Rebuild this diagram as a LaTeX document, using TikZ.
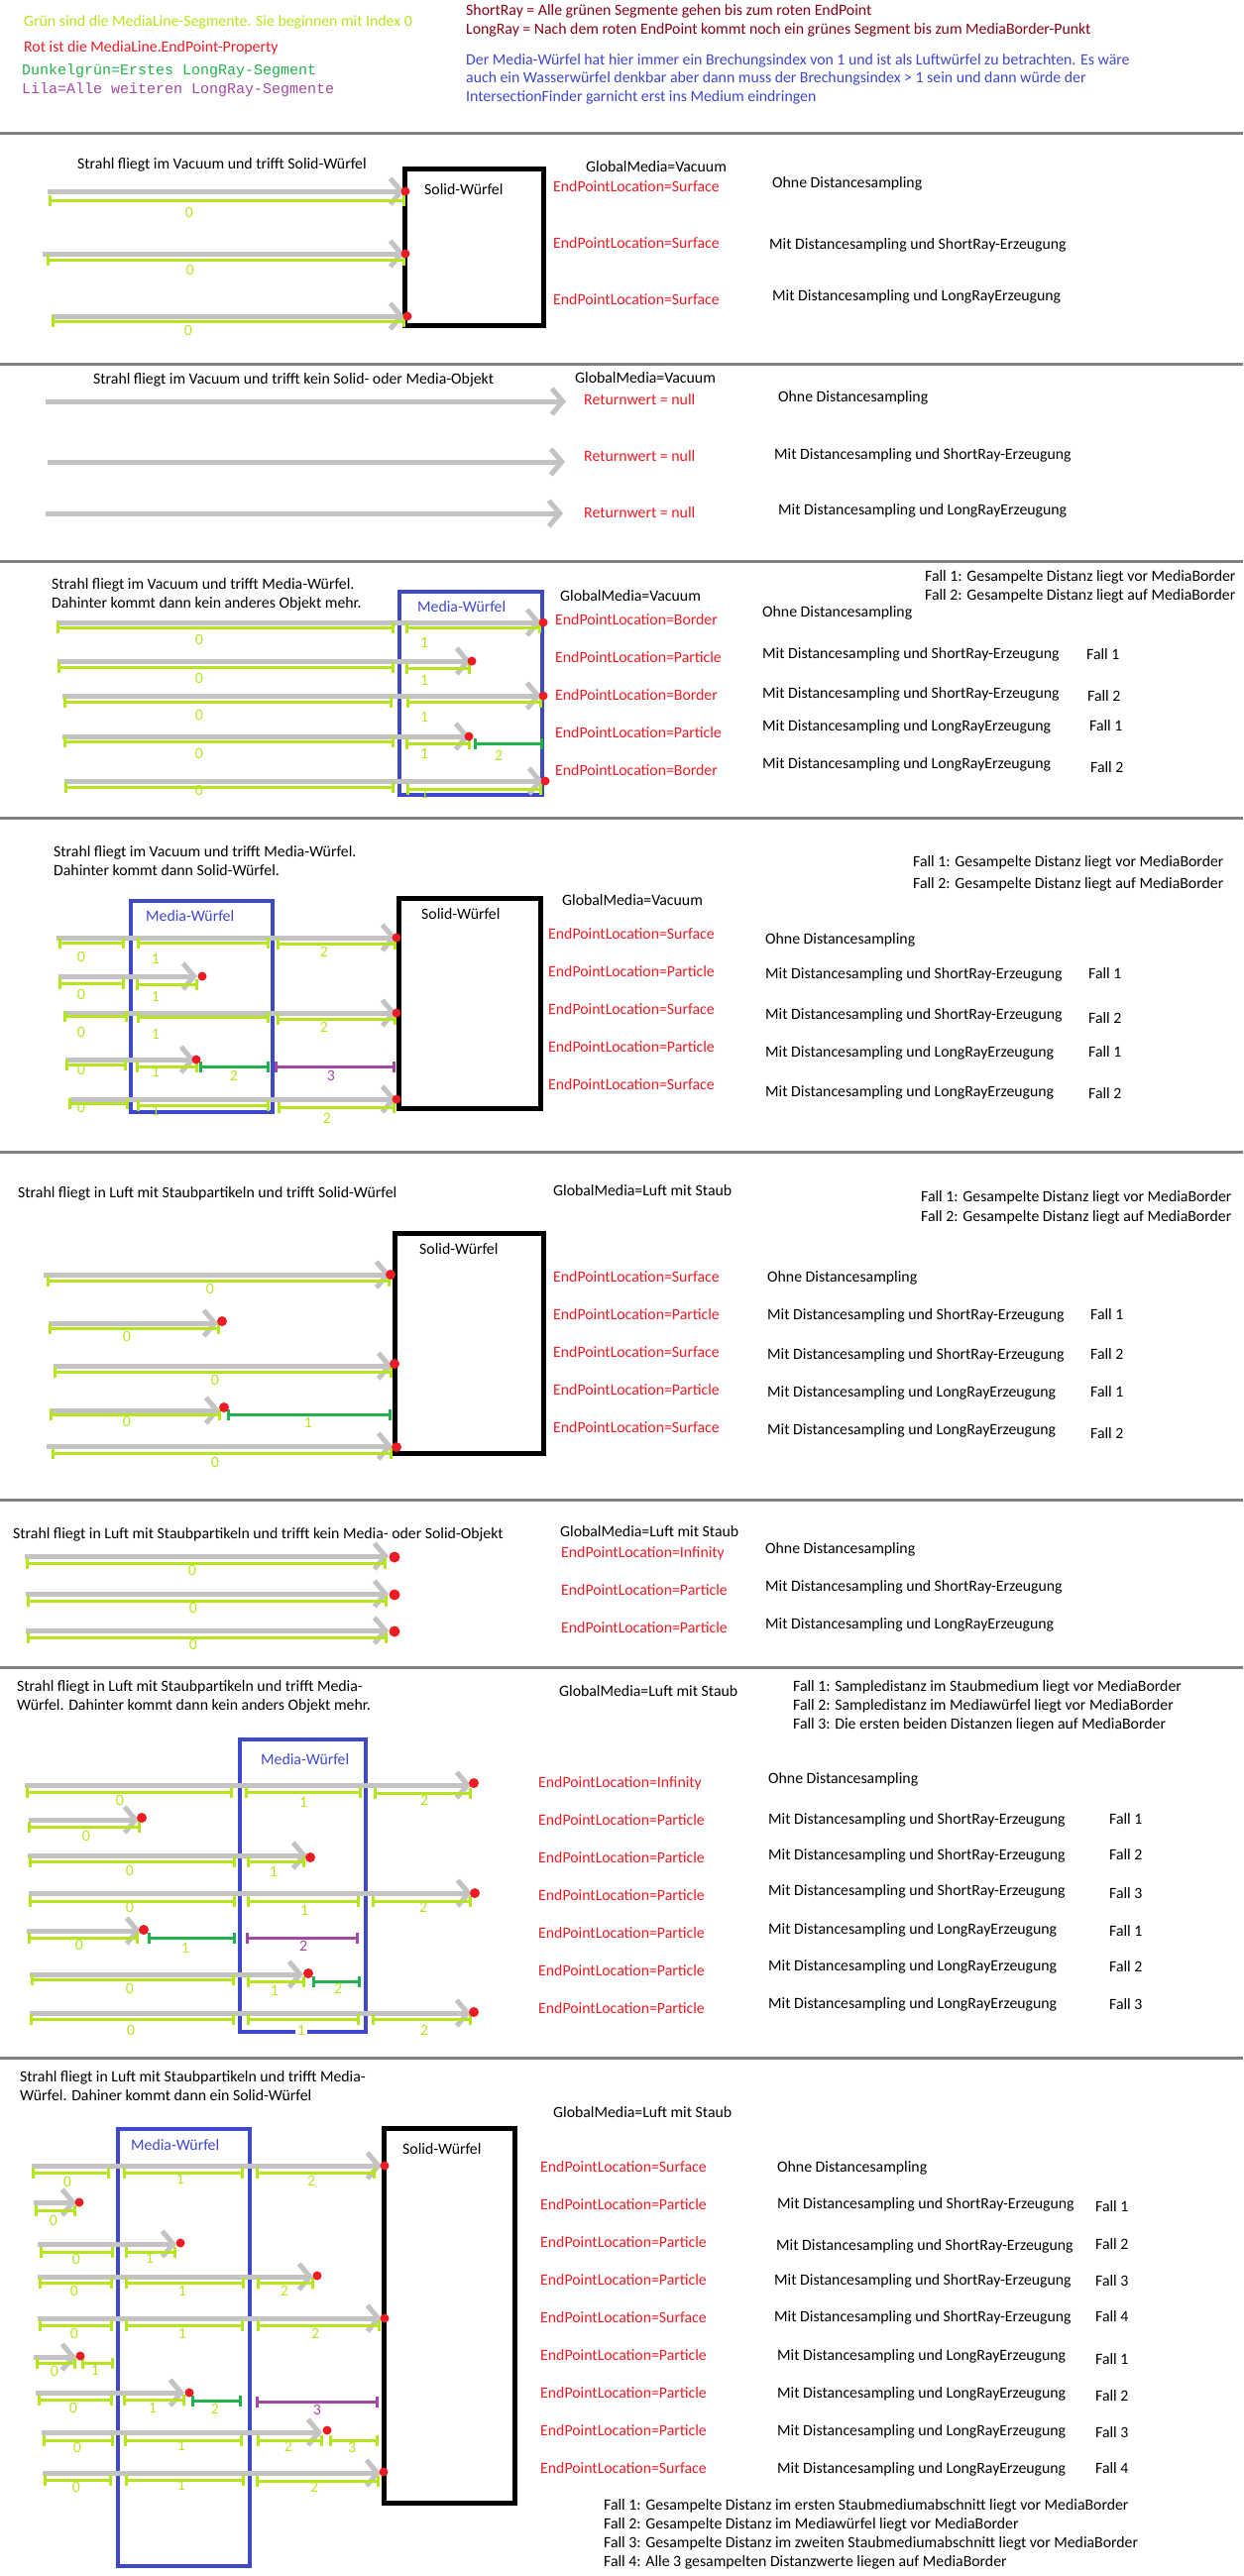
\documentclass[tikz,border=0pt]{standalone}
\usepackage{fontspec}
\setmainfont{Carlito}
\newfontfamily\mymono{Liberation Mono}
\usetikzlibrary{arrows.meta}
\definecolor{cLime}{HTML}{B5E61D}
\definecolor{cDGreen}{HTML}{22B14C}
\definecolor{cPurp}{HTML}{A349A4}
\definecolor{cRed}{HTML}{ED1C24}
\definecolor{cBlue}{HTML}{3F48CC}
\definecolor{cRay}{HTML}{C3C3C3}
\definecolor{cSep}{HTML}{7F7F7F}
\definecolor{cDRed}{HTML}{880015}
\newcounter{nid}
\newcommand\TX[4][]{\stepcounter{nid}\node[txt,#1] (n\arabic{nid}) at (#2,#3) {#4};}
\newcommand\LB[4][cLime]{\stepcounter{nid}\node[lbl,text=#1] (n\arabic{nid}) at (#2,#3) {#4};}
\newcommand\RY[3]{\draw[raysty] (#1,#3) -- (#2,#3);}
\newcommand\GS[4][cLime]{\draw[segsty,draw=#1] (#2,#4) -- (#3,#4);}
\newcommand\EP[3][4.5]{\fill[cRed] (#2,#3) circle (#1pt);}
\newcommand\SEP[1]{\draw[cSep,line width=3pt] (0,#1) -- (1254,#1);}
\begin{document}
\begin{tikzpicture}[x=1pt,y=-1pt,
  txt/.style={anchor=west,inner sep=0pt,font=\fontsize{15.8}{19}\selectfont,text height=10.5pt,text depth=3pt},
  lbl/.style={anchor=center,inner sep=0pt,font=\fontsize{15.8}{19}\selectfont,text height=10.5pt,text depth=3pt},
  red/.style={text=cRed},
  mono/.style={font=\mymono\fontsize{15}{18}\selectfont},
  raysty/.style={draw=cRay,line width=5pt,-{Straight Barb[length=11pt,width=26pt]}},
  segsty/.style={line width=3pt,{Bar[width=11pt]}-{Bar[width=11pt]}},
  solidbox/.style={draw=black,line width=5pt},
  mediabox/.style={draw=cBlue,line width=4.5pt}]
\fill[white] (0,0) rectangle (1254,2599);
\useasboundingbox (0,0) rectangle (1254,2599);

% ---------------- header
\TX[text=cLime]{24}{23}{Grün sind die MediaLine-Segmente. Sie beginnen mit Index 0}
\TX[red]{24}{49}{Rot ist die MediaLine.EndPoint-Property}
\TX[mono,text=cDGreen]{22}{72}{Dunkelgrün=Erstes LongRay-Segment}
\TX[mono,text=cPurp]{22}{91}{Lila=Alle weiteren LongRay-Segmente}
\TX[text=cDRed]{470}{12}{ShortRay = Alle grünen Segmente gehen bis zum roten EndPoint}
\TX[text=cDRed]{470}{31}{LongRay = Nach dem roten EndPoint kommt noch ein grünes Segment bis zum MediaBorder-Punkt}
\TX[text=cBlue]{470}{62}{Der Media-Würfel hat hier immer ein Brechungsindex von 1 und ist als Luftwürfel zu betrachten. Es wäre}
\TX[text=cBlue]{470}{80}{auch ein Wasserwürfel denkbar aber dann muss der Brechungsindex > 1 sein und dann würde der}
\TX[text=cBlue]{470}{99}{IntersectionFinder garnicht erst ins Medium eindringen}

\SEP{134}\SEP{367}\SEP{566}\SEP{825}\SEP{1162}\SEP{1513}\SEP{1682}\SEP{2076}

% ---------------- section 1
\TX{78}{167}{Strahl fliegt im Vacuum und trifft Solid-Würfel}
\draw[solidbox] (408,170) rectangle (548,328);
\TX{428}{193}{Solid-Würfel}
\RY{48}{408}{193}\GS{49}{409}{202}\LB{191}{216}{0}\EP{409}{193}
\RY{43}{408}{256}\GS{47}{409}{262}\LB{192}{274}{0}\EP{409}{256}
\RY{52}{408}{319}\GS{52}{409}{324}\LB{190}{335}{0}\EP{411}{319}
\TX{591}{170}{GlobalMedia=Vacuum}
\TX[red]{558}{190}{EndPointLocation=Surface}
\TX[red]{558}{247}{EndPointLocation=Surface}
\TX[red]{558}{304}{EndPointLocation=Surface}
\TX{779}{186}{Ohne Distancesampling}
\TX{776}{248}{Mit Distancesampling und ShortRay-Erzeugung}
\TX{779}{300}{Mit Distancesampling und LongRayErzeugung}

% ---------------- section 2
\TX{94}{384}{Strahl fliegt im Vacuum und trifft kein Solid- oder Media-Objekt}
\RY{46}{571}{405}\RY{48}{570}{466}\RY{46}{568}{518}
\TX{580}{383}{GlobalMedia=Vacuum}
\TX[red]{589}{405}{Returnwert = null}
\TX[red]{589}{462}{Returnwert = null}
\TX[red]{589}{519}{Returnwert = null}
\TX{785}{402}{Ohne Distancesampling}
\TX{781}{460}{Mit Distancesampling und ShortRay-Erzeugung}
\TX{785}{516}{Mit Distancesampling und LongRayErzeugung}

% ---------------- section 3
\TX{52}{591}{Strahl fliegt im Vacuum und trifft Media-Würfel.}
\TX{52}{610}{Dahinter kommt dann kein anderes Objekt mehr.}
\draw[mediabox] (403,597) rectangle (547,802);
\TX[text=cBlue]{421}{614}{Media-Würfel}
\RY{57}{546}{628}\GS{57}{398}{633}\GS{409}{546}{633}\LB{201}{647}{0}\LB{428}{650}{1}\EP{548}{628}
\RY{58}{475}{667}\GS{58}{398}{673}\GS{409}{475}{674}\LB{201}{686}{0}\LB{428}{688}{1}\EP{476}{667}
\RY{63}{546}{702}\GS{64}{396}{708}\GS{410}{547}{708}\LB{201}{723}{0}\LB{428}{725}{1}\EP{548}{702}
\RY{63}{474}{743}\GS{64}{398}{748}\GS{409}{475}{750}\GS[cDGreen]{478}{548}{750}\LB{201}{762}{0}\LB{428}{762}{1}\LB{503}{764}{2}\EP{473}{743}
\RY{65}{548}{788}\GS{65}{398}{794}\GS{410}{547}{796}\LB{201}{799}{0}\LB{428}{802}{1}\EP{550}{788}
\TX{933}{583}{Fall 1: Gesampelte Distanz liegt vor MediaBorder}
\TX{933}{602}{Fall 2: Gesampelte Distanz liegt auf MediaBorder}
\TX{565}{603}{GlobalMedia=Vacuum}
\TX[red]{560}{627}{EndPointLocation=Border}
\TX[red]{560}{665}{EndPointLocation=Particle}
\TX[red]{560}{703}{EndPointLocation=Border}
\TX[red]{560}{741}{EndPointLocation=Particle}
\TX[red]{560}{779}{EndPointLocation=Border}
\TX{769}{619}{Ohne Distancesampling}
\TX{769}{661}{Mit Distancesampling und ShortRay-Erzeugung}
\TX{769}{701}{Mit Distancesampling und ShortRay-Erzeugung}
\TX{769}{734}{Mit Distancesampling und LongRayErzeugung}
\TX{769}{772}{Mit Distancesampling und LongRayErzeugung}
\TX{1096}{662}{Fall 1}\TX{1097}{704}{Fall 2}\TX{1099}{734}{Fall 1}\TX{1100}{776}{Fall 2}

% ---------------- section 4
\TX{54}{861}{Strahl fliegt im Vacuum und trifft Media-Würfel.}
\TX{54}{880}{Dahinter kommt dann Solid-Würfel.}
\draw[mediabox] (132,909) rectangle (275,1122);
\TX[text=cBlue]{147}{926}{Media-Würfel}
\draw[solidbox] (402,906) rectangle (545,1118);
\TX{425}{924}{Solid-Würfel}
\RY{57}{400}{946}\GS{59}{126}{951}\GS{138}{272}{951}\GS{279}{400}{952}\LB{82}{967}{0}\LB{157}{969}{1}\LB{327}{962}{2}\EP{400}{946}
\RY{59}{199}{985}\GS{59}{126}{992}\GS{137}{200}{993}\LB{82}{1005}{0}\LB{157}{1007}{1}\EP{204}{985}
\RY{64}{400}{1022}\GS{64}{129}{1025}\GS{138}{272}{1026}\GS{279}{400}{1028}\LB{82}{1043}{0}\LB{157}{1045}{1}\LB{327}{1038}{2}\EP{400}{1022}
\RY{66}{197}{1069}\GS{66}{128}{1074}\GS{137}{200}{1076}\GS[cDGreen]{201}{272}{1076}\GS[cPurp]{277}{399}{1076}\LB{82}{1081}{0}\LB{157}{1083}{1}\LB{236}{1087}{2}\LB[cPurp]{334}{1087}{3}\EP{198}{1069}
\RY{71}{400}{1109}\GS{69}{130}{1113}\GS{138}{272}{1115}\GS{280}{399}{1117}\LB{82}{1119}{0}\LB{157}{1122}{1}\LB{330}{1130}{2}\EP{400}{1109}
\TX{921}{871}{Fall 1: Gesampelte Distanz liegt vor MediaBorder}
\TX{921}{893}{Fall 2: Gesampelte Distanz liegt auf MediaBorder}
\TX{567}{910}{GlobalMedia=Vacuum}
\TX[red]{553}{944}{EndPointLocation=Surface}
\TX[red]{553}{982}{EndPointLocation=Particle}
\TX[red]{553}{1020}{EndPointLocation=Surface}
\TX[red]{553}{1058}{EndPointLocation=Particle}
\TX[red]{553}{1096}{EndPointLocation=Surface}
\TX{772}{949}{Ohne Distancesampling}
\TX{772}{984}{Mit Distancesampling und ShortRay-Erzeugung}
\TX{772}{1025}{Mit Distancesampling und ShortRay-Erzeugung}
\TX{772}{1063}{Mit Distancesampling und LongRayErzeugung}
\TX{772}{1103}{Mit Distancesampling und LongRayErzeugung}
\TX{1098}{984}{Fall 1}\TX{1098}{1029}{Fall 2}\TX{1098}{1063}{Fall 1}\TX{1098}{1105}{Fall 2}

% ---------------- section 5
\TX{18}{1205}{Strahl fliegt in Luft mit Staubpartikeln und trifft Solid-Würfel}
\draw[solidbox] (398,1244) rectangle (548,1466);
\TX{423}{1262}{Solid-Würfel}
\RY{44}{394}{1286}\GS{47}{394}{1292}\LB{212}{1302}{0}\EP[5]{394}{1286}
\RY{49}{220}{1335}\GS{49}{222}{1340}\LB{128}{1350}{0}\EP[5]{224}{1333}
\RY{54}{396}{1378}\GS{54}{396}{1384}\LB{217}{1394}{0}\EP[5]{398}{1376}
\RY{50}{222}{1423}\GS{50}{223}{1427}\GS[cDGreen]{229}{395}{1427}\LB{128}{1436}{0}\LB{311}{1437}{1}\EP[5]{226}{1420}
\RY{47}{396}{1459}\GS{52}{396}{1466}\LB{217}{1477}{0}\EP[5]{400}{1460}
\TX{558}{1203}{GlobalMedia=Luft mit Staub}
\TX{929}{1209}{Fall 1: Gesampelte Distanz liegt vor MediaBorder}
\TX{929}{1229}{Fall 2: Gesampelte Distanz liegt auf MediaBorder}
\TX[red]{558}{1290}{EndPointLocation=Surface}
\TX[red]{558}{1328}{EndPointLocation=Particle}
\TX[red]{558}{1366}{EndPointLocation=Surface}
\TX[red]{558}{1404}{EndPointLocation=Particle}
\TX[red]{558}{1442}{EndPointLocation=Surface}
\TX{774}{1290}{Ohne Distancesampling}
\TX{774}{1328}{Mit Distancesampling und ShortRay-Erzeugung}
\TX{774}{1368}{Mit Distancesampling und ShortRay-Erzeugung}
\TX{774}{1406}{Mit Distancesampling und LongRayErzeugung}
\TX{774}{1444}{Mit Distancesampling und LongRayErzeugung}
\TX{1100}{1328}{Fall 1}\TX{1100}{1368}{Fall 2}\TX{1100}{1406}{Fall 1}\TX{1100}{1448}{Fall 2}

% ---------------- section 6
\TX{13}{1549}{Strahl fliegt in Luft mit Staubpartikeln und trifft kein Media- oder Solid-Objekt}
\RY{25}{392}{1570}\GS{26}{390}{1577}\LB{194}{1586}{0}\EP[5.5]{398}{1571}
\RY{26}{392}{1608}\GS{27}{391}{1615}\LB{195}{1624}{0}\EP[5.5]{398}{1609}
\RY{26}{392}{1645}\GS{27}{391}{1652}\LB{195}{1661}{0}\EP[5.5]{398}{1646}
\TX{565}{1547}{GlobalMedia=Luft mit Staub}
\TX[red]{566}{1568}{EndPointLocation=Infinity}
\TX[red]{566}{1606}{EndPointLocation=Particle}
\TX[red]{566}{1644}{EndPointLocation=Particle}
\TX{772}{1564}{Ohne Distancesampling}
\TX{772}{1602}{Mit Distancesampling und ShortRay-Erzeugung}
\TX{772}{1640}{Mit Distancesampling und LongRayErzeugung}

% ---------------- section 7
\TX{17}{1703}{Strahl fliegt in Luft mit Staubpartikeln und trifft Media-}
\TX{17}{1722}{Würfel. Dahinter kommt dann kein anders Objekt mehr.}
\draw[mediabox] (242,1755) rectangle (369,2050);
\TX[text=cBlue]{263}{1777}{Media-Würfel}
\RY{25}{475}{1801}\GS{26}{235}{1808}\GS{247}{365}{1808}\GS{377}{476}{1809}\LB{121}{1818}{0}\LB{306}{1820}{1}\LB{428}{1818}{2}\EP[5]{478}{1799}
\RY{29}{140}{1836}\GS{28}{142}{1843}\LB{87}{1854}{0}\EP[5]{143}{1834}
\RY{28}{310}{1872}\GS{29}{238}{1878}\GS{249}{308}{1878}\LB{131}{1889}{0}\LB{276}{1890}{1}\EP[5]{313}{1874}
\RY{29}{476}{1910}\GS{29}{238}{1918}\GS{249}{363}{1918}\GS{375}{476}{1918}\LB{131}{1926}{0}\LB{307}{1929}{1}\LB{427}{1926}{2}\EP[5]{479}{1910}
\RY{27}{142}{1948}\GS{28}{140}{1955}\GS[cDGreen]{149}{238}{1955}\GS[cPurp]{248}{362}{1955}\LB{80}{1964}{0}\LB{187}{1967}{1}\LB[cPurp]{306}{1965}{2}\EP[5]{145}{1947}
\RY{30}{306}{1992}\GS{31}{237}{1997}\GS{249}{308}{1999}\GS[cDGreen]{315}{364}{1999}\LB{131}{2008}{0}\LB{277}{2010}{1}\LB{341}{2008}{2}\EP[5]{311}{1991}
\RY{30}{475}{2031}\GS{30}{237}{2037}\GS{249}{363}{2037}\GS{375}{476}{2037}\LB{132}{2050}{0}\stepcounter{nid}\node[lbl,text=cLime,fill=white,inner xsep=2pt] (n\arabic{nid}) at (304,2050) {1};\LB{428}{2050}{2}\EP[5]{478}{2030}
\TX{564}{1708}{GlobalMedia=Luft mit Staub}
\TX{800}{1703}{Fall 1: Sampledistanz im Staubmedium liegt vor MediaBorder}
\TX{800}{1722}{Fall 2: Sampledistanz im Mediawürfel liegt vor MediaBorder}
\TX{800}{1741}{Fall 3: Die ersten beiden Distanzen liegen auf MediaBorder}
\TX[red]{543}{1800}{EndPointLocation=Infinity}
\TX[red]{543}{1838}{EndPointLocation=Particle}
\TX[red]{543}{1876}{EndPointLocation=Particle}
\TX[red]{543}{1914}{EndPointLocation=Particle}
\TX[red]{543}{1952}{EndPointLocation=Particle}
\TX[red]{543}{1990}{EndPointLocation=Particle}
\TX[red]{543}{2028}{EndPointLocation=Particle}
\TX{775}{1796}{Ohne Distancesampling}
\TX{775}{1837}{Mit Distancesampling und ShortRay-Erzeugung}
\TX{775}{1873}{Mit Distancesampling und ShortRay-Erzeugung}
\TX{775}{1909}{Mit Distancesampling und ShortRay-Erzeugung}
\TX{775}{1948}{Mit Distancesampling und LongRayErzeugung}
\TX{775}{1985}{Mit Distancesampling und LongRayErzeugung}
\TX{775}{2023}{Mit Distancesampling und LongRayErzeugung}
\TX{1119}{1837}{Fall 1}\TX{1119}{1873}{Fall 2}\TX{1119}{1912}{Fall 3}
\TX{1119}{1950}{Fall 1}\TX{1119}{1986}{Fall 2}\TX{1119}{2024}{Fall 3}

% ---------------- section 8
\TX{20}{2097}{Strahl fliegt in Luft mit Staubpartikeln und trifft Media-}
\TX{20}{2116}{Würfel. Dahiner kommt dann ein Solid-Würfel}
\draw[mediabox] (119,2148) rectangle (252,2589);
\TX[text=cBlue]{132}{2166}{Media-Würfel}
\draw[solidbox] (387,2147) rectangle (519,2525);
\TX{406}{2170}{Solid-Würfel}
\RY{32}{385}{2185}\GS{32}{111}{2192}\GS{124}{246}{2192}\GS{258}{379}{2192}\LB{68}{2203}{0}\LB{182}{2200}{1}\LB{314}{2202}{2}\EP{388}{2185}
\RY{34}{77}{2222}\GS{35}{77}{2230}\LB{54}{2242}{0}\EP{80}{2222}
\RY{38}{178}{2264}\GS{40}{115}{2272}\GS{126}{178}{2272}\LB{77}{2281}{0}\LB{151}{2280}{1}\EP{182}{2263}
\RY{38}{316}{2297}\GS{39}{114}{2303}\GS{126}{247}{2303}\GS{259}{317}{2303}\LB{75}{2313}{0}\LB{184}{2313}{1}\LB{287}{2313}{2}\EP{320}{2296}
\RY{38}{385}{2339}\GS{39}{114}{2346}\GS{126}{246}{2346}\GS{259}{384}{2346}\LB{75}{2356}{0}\LB{184}{2356}{1}\LB{318}{2356}{2}\EP{388}{2339}
\RY{34}{77}{2378}\GS{36}{77}{2384}\GS{82}{115}{2384}\LB{55}{2394}{0}\LB{96}{2393}{1}\EP{81}{2377}
\RY{36}{186}{2414}\GS{38}{114}{2421}\GS{124}{187}{2421}\GS[cDGreen]{193}{244}{2422}\GS[cPurp]{258}{382}{2423}\LB{74}{2431}{0}\LB{154}{2431}{1}\LB{217}{2432}{2}\LB[cPurp]{320}{2433}{3}\EP{191}{2414}
\RY{42}{325}{2454}\GS{43}{115}{2462}\GS{125}{245}{2462}\GS{259}{326}{2462}\GS{332}{382}{2462}\LB{78}{2471}{0}\LB{183}{2469}{1}\LB{291}{2470}{2}\LB{355}{2471}{3}\EP{330}{2452}
\RY{43}{384}{2495}\GS{44}{113}{2502}\GS{126}{247}{2502}\GS{258}{383}{2503}\LB{77}{2511}{0}\LB{183}{2509}{1}\LB{317}{2511}{2}\EP{387}{2494}
\TX{558}{2133}{GlobalMedia=Luft mit Staub}
\TX[red]{545}{2188}{EndPointLocation=Surface}
\TX[red]{545}{2226}{EndPointLocation=Particle}
\TX[red]{545}{2264}{EndPointLocation=Particle}
\TX[red]{545}{2302}{EndPointLocation=Particle}
\TX[red]{545}{2340}{EndPointLocation=Surface}
\TX[red]{545}{2378}{EndPointLocation=Particle}
\TX[red]{545}{2416}{EndPointLocation=Particle}
\TX[red]{545}{2454}{EndPointLocation=Particle}
\TX[red]{545}{2492}{EndPointLocation=Surface}
\TX{784}{2188}{Ohne Distancesampling}
\TX{784}{2225}{Mit Distancesampling und ShortRay-Erzeugung}
\TX{783}{2267}{Mit Distancesampling und ShortRay-Erzeugung}
\TX{781}{2302}{Mit Distancesampling und ShortRay-Erzeugung}
\TX{781}{2339}{Mit Distancesampling und ShortRay-Erzeugung}
\TX{784}{2378}{Mit Distancesampling und LongRayErzeugung}
\TX{784}{2416}{Mit Distancesampling und LongRayErzeugung}
\TX{784}{2454}{Mit Distancesampling und LongRayErzeugung}
\TX{784}{2492}{Mit Distancesampling und LongRayErzeugung}
\TX{1105}{2228}{Fall 1}\TX{1105}{2266}{Fall 2}\TX{1105}{2303}{Fall 3}\TX{1105}{2339}{Fall 4}
\TX{1105}{2382}{Fall 1}\TX{1105}{2419}{Fall 2}\TX{1105}{2456}{Fall 3}\TX{1105}{2492}{Fall 4}
\TX{609}{2529}{Fall 1: Gesampelte Distanz im ersten Staubmediumabschnitt liegt vor MediaBorder}
\TX{609}{2548}{Fall 2: Gesampelte Distanz im Mediawürfel liegt vor MediaBorder}
\TX{609}{2567}{Fall 3: Gesampelte Distanz im zweiten Staubmediumabschnitt liegt vor MediaBorder}
\TX{609}{2586}{Fall 4: Alle 3 gesampelten Distanzwerte liegen auf MediaBorder}
\end{tikzpicture}
\end{document}
